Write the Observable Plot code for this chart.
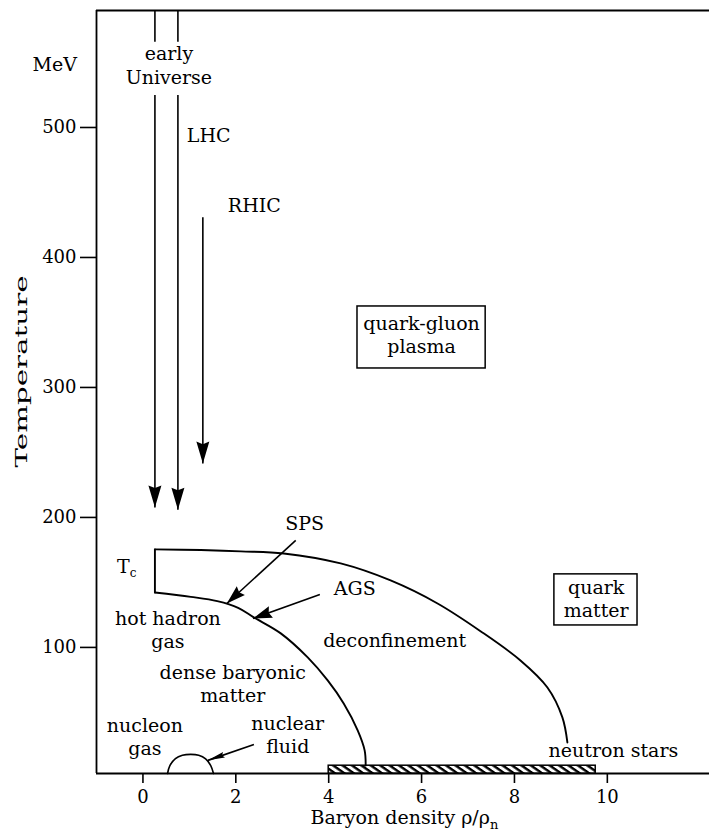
<!DOCTYPE html>
<html>
<head>
<meta charset="utf-8">
<script src="https://cdn.jsdelivr.net/npm/d3@7"></script>
<script src="https://cdn.jsdelivr.net/npm/@observablehq/plot@0.6"></script>
<style>
  html, body { margin: 0; padding: 0; background: #fff; }
</style>
</head>
<body>
<div id="chart"></div>
<script>
// ---- data (baryon density ρ/ρn, temperature MeV) ----
const xDomain = [-1, 12.2];
const yDomain = [3, 590];
const xTicks = [0, 2, 4, 6, 8, 10];
const yTicks = [100, 200, 300, 400, 500];

// lower phase boundary (hadron gas / dense baryonic matter)
const lowerCurve = [
  [0.258, 142.3], [1.032, 138.9], [1.6, 135.6], [2.05, 130.5], [2.387, 123.1], [2.968, 110.8],
  [3.548, 92.3], [3.978, 74.6], [4.323, 56.9], [4.624, 36.2], [4.774, 20.8], [4.796, 9.2]
];
// Tc edge
const tcEdge = [[0.258, 142.3], [0.258, 175.4]];
// upper boundary (deconfinement)
const upperCurve = [
  [0.258, 175.4], [1.247, 174.9], [2.108, 173.9], [3.032, 172.3], [4.258, 164.6],
  [5.333, 151.5], [6.344, 133.8], [7.269, 112.5], [8.129, 90.0], [8.71, 69.2],
  [9.032, 46.2], [9.14, 26.9]
];
// nuclear fluid dome
const nuclearDome = [
  [0.53, 3], [0.58, 9], [0.7, 14.5], [0.85, 17], [1.03, 17.7], [1.2, 17], [1.35, 14.2], [1.46, 9], [1.52, 3]
];
// neutron star band
const starBand = [{x1: 4.0, x2: 9.75, y1: 3, y2: 9}];

// label boxes
const labelBoxes = [
  {x1: 4.62, x2: 7.38, y1: 314.6, y2: 362.3},
  {x1: 8.86, x2: 10.65, y1: 116.9, y2: 156.2}
];

// arrows: tail (x1,y1) -> tip (x2,y2)
const arrows = [
  {name: "early Universe", kind: "v", x1: 0.258, y1: 525, x2: 0.258, y2: 207.7},
  {name: "LHC", kind: "v", x1: 0.753, y1: 525, x2: 0.753, y2: 206},
  {name: "RHIC", kind: "v", x1: 1.29, y1: 431, x2: 1.29, y2: 241.5},
  {name: "SPS", kind: "o", x1: 3.29, y1: 182.3, x2: 1.806, y2: 133.8},
  {name: "AGS", kind: "o", x1: 3.81, y1: 140.8, x2: 2.37, y2: 122.3},
  {name: "nuclear fluid", kind: "s", x1: 2.39, y1: 25.4, x2: 1.40, y2: 13.1}
];
// top stubs of the early Universe / LHC arrows (above the label)
const topStubs = [
  {x1: 0.258, y1: 590, x2: 0.258, y2: 566},
  {x1: 0.753, y1: 590, x2: 0.753, y2: 566}
];

const labels = [
  {text: "early\nUniverse", x: 0.559, y: 533.8, anchor: "middle"},
  {text: "LHC", x: 0.946, y: 488.5, anchor: "start"},
  {text: "RHIC", x: 1.828, y: 434.6, anchor: "start"},
  {text: "quark-gluon\nplasma", x: 6.0, y: 326.2, anchor: "middle"},
  {text: "quark\nmatter", x: 9.76, y: 123.1, anchor: "middle"},
  {text: "deconfinement", x: 5.42, y: 100, anchor: "middle"},
  {text: "SPS", x: 3.48, y: 190, anchor: "middle"},
  {text: "AGS", x: 4.56, y: 140, anchor: "middle"},
  {text: "Tc", x: -0.559, y: 156.9, anchor: "start"},
  {text: "hot hadron\ngas", x: 0.538, y: 99.2, anchor: "middle"},
  {text: "dense baryonic\nmatter", x: 1.935, y: 57.7, anchor: "middle"},
  {text: "nucleon\ngas", x: 0.043, y: 16.9, anchor: "middle"},
  {text: "nuclear\nfluid", x: 3.118, y: 18.5, anchor: "middle"},
  {text: "neutron stars", x: 10.13, y: 15.4, anchor: "middle"},
  {text: "MeV", x: -1.419, y: 543.1, anchor: "end"},
  {text: "Baryon density ρ/ρn", x: 3.608, y: -35.5, anchor: "start"}
];
const yTitle = [{text: "Temperature", x: -2.507, y: 312.3}];

// ---- layout ----
const W = 709, H = 830;
const mL = 96, mR = 0, mT = 10, mB = 57;
const sx = d3.scaleLinear(xDomain, [mL, W - mR]);
const sy = d3.scaleLinear(yDomain, [H - mB, mT]);
const angle = d => {
  const dx = sx(d.x2) - sx(d.x1), dy = sy(d.y2) - sy(d.y1);
  return Math.atan2(dx, -dy) * 180 / Math.PI;
};
const headShape = {
  draw(context, l, r) {
    context.moveTo(0, -l);
    context.lineTo(r, 0);
    context.lineTo(0, -l * 0.12);
    context.lineTo(-r, 0);
    context.closePath();
  }
};
const FONT = 19;
const textMarks = ["start", "middle", "end"].map(a =>
  Plot.text(labels.filter(d => d.anchor === a), {
    x: "x", y: "y", text: "text", textAnchor: a, lineAnchor: "bottom",
    lineHeight: 1.23, fontSize: FONT, fill: "black"
  })
);

const svg = Plot.plot({
  width: W, height: H,
  marginLeft: mL, marginRight: mR, marginTop: mT, marginBottom: mB,
  style: {fontFamily: "'DejaVu Serif', serif", fontSize: "19px", background: "white", color: "black", overflow: "visible"},
  x: {domain: xDomain},
  y: {domain: yDomain},
  marks: [
    // frame (left, top, bottom)
    Plot.ruleX([xDomain[0]], {y1: yDomain[0], y2: yDomain[1], strokeWidth: 1.8}),
    Plot.ruleY([yDomain[1], yDomain[0]], {strokeWidth: 1.8}),
    Plot.axisY({ticks: yTicks, tickSize: 16, tickPadding: 4, fontSize: 18, label: null, strokeWidth: 1.6}),
    Plot.axisX({ticks: xTicks, tickSize: 10, tickPadding: 7, fontSize: 18, label: null, strokeWidth: 1.6}),
    // band
    Plot.rect(starBand, {x1: "x1", x2: "x2", y1: "y1", y2: "y2", fill: "url(#hatch)", stroke: "black", strokeWidth: 1.5}),
    // boundaries
    Plot.line(lowerCurve, {curve: "catmull-rom", strokeWidth: 1.9}),
    Plot.line(tcEdge, {strokeWidth: 1.9}),
    Plot.line(upperCurve, {curve: "catmull-rom", strokeWidth: 1.9}),
    Plot.line(nuclearDome, {curve: "catmull-rom", strokeWidth: 1.6}),
    // label boxes
    Plot.rect(labelBoxes, {x1: "x1", x2: "x2", y1: "y1", y2: "y2", fill: "none", stroke: "black", strokeWidth: 1.5}),
    // arrows
    Plot.link(topStubs, {x1: "x1", y1: "y1", x2: "x2", y2: "y2", strokeWidth: 1.6}),
    Plot.link(arrows, {x1: "x1", y1: "y1", x2: "x2", y2: "y2", strokeWidth: 1.6}),
    Plot.vector(arrows.filter(d => d.kind === "v"), {x: "x2", y: "y2", rotate: angle, length: 22, r: 6.5, shape: headShape, anchor: "end", fill: "black", stroke: "none"}),
    Plot.vector(arrows.filter(d => d.kind === "o"), {x: "x2", y: "y2", rotate: angle, length: 19, r: 6, shape: headShape, anchor: "end", fill: "black", stroke: "none"}),
    Plot.vector(arrows.filter(d => d.kind === "s"), {x: "x2", y: "y2", rotate: angle, length: 17, r: 3, shape: headShape, anchor: "end", fill: "black", stroke: "none"}),
    // labels
    ...textMarks,
    Plot.text(yTitle, {x: "x", y: "y", text: "text", rotate: -90, lineAnchor: "bottom", fontSize: 17, fill: "black"})
  ]
});

// hatch pattern for the neutron-star band
const sel = d3.select(svg);
const defs = sel.insert("defs", ":first-child");
const pat = defs.append("pattern").attr("id", "hatch").attr("patternUnits", "userSpaceOnUse")
  .attr("width", 5.4).attr("height", 5.4).attr("patternTransform", "rotate(-55)");
pat.append("rect").attr("width", 5.4).attr("height", 5.4).attr("fill", "white");
pat.append("line").attr("x1", 1.5).attr("y1", 0).attr("x2", 1.5).attr("y2", 5.4).attr("stroke", "black").attr("stroke-width", 2.4);

// subscripts and stretched axis title
sel.selectAll("text").each(function () {
  const t = this.textContent;
  if (t === "Tc") {
    this.textContent = "T";
    d3.select(this).append("tspan").attr("font-size", 12).attr("dy", 4).text("c");
  } else if (t === "Baryon density ρ/ρn") {
    this.textContent = "Baryon density ρ/ρ";
    d3.select(this).append("tspan").attr("font-size", 13).attr("dy", 5).text("n");
  } else if (t === "Temperature") {
    this.setAttribute("textLength", 192);
    this.setAttribute("lengthAdjust", "spacingAndGlyphs");
  }
});

document.getElementById("chart").appendChild(svg);
</script>
</body>
</html>
